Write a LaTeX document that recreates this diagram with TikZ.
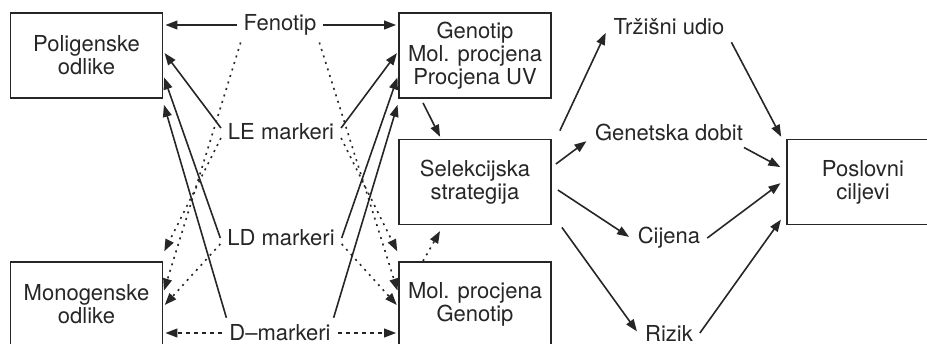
\documentclass[tikz,border=0pt]{standalone}
\usepackage{fontspec}
\setmainfont{TeX Gyre Heros}
\usetikzlibrary{arrows.meta}

\tikzset{
	kutija/.style={draw, line width=0.9pt, minimum width=76pt, minimum height=42.5pt, align=center, inner sep=0pt},
	strelica/.style={-{Triangle[length=6pt,width=4.4pt]}, line width=0.8pt, shorten >=1pt},
	tockasta/.style={strelica, dash pattern=on 1pt off 2.4pt},
	crtkana/.style={strelica, dash pattern=on 2pt off 2pt}
}

\begin{document}
\begin{tikzpicture}[x=0.5pt, y=-0.5pt, black!85,
		every node/.style={font=\fontsize{11}{11.5}\selectfont, text=black!85}]
		\useasboundingbox (0, 0) rectangle (927, 343);

		% kutije
		\node[kutija] (pol) at (86.5, 55.5) {Poligenske\\odlike};
		\node[kutija] (mono) at (86.5, 304.5) {Monogenske\\odlike};
		\node[kutija] (geno) at (475, 55.5) {Genotip\\Mol. procjena\\Procjena UV};
		\node[kutija] (sel) at (475, 182) {Selekcijska\\strategija};
		\node[kutija] (mol) at (475, 304.5) {Mol. procjena\\Genotip};
		\node[kutija] (cilj) at (863, 182) {Poslovni\\ciljevi};

		% markeri
		\node (fen) at (280, 25) {Fenotip};
		\node (le) at (281, 132) {LE markeri};
		\node (ld) at (281, 238) {LD markeri};
		\node (dm) at (280, 333) {D--markeri};

		% ishodi
		\node (trz) at (669, 27) {Tržišni udio};
		\node (gen) at (669, 132) {Genetska dobit};
		\node (cij) at (669, 238) {Cijena};
		\node (riz) at (669, 333) {Rizik};

		% fenotip i d-markeri
		\draw[strelica] (fen.west) -- (fen -| pol.east);
		\draw[strelica] (fen.east) -- (fen -| geno.west);
		\draw[crtkana] (dm.west) -- (dm -| mono.east);
		\draw[crtkana] (dm.east) -- (dm -| mol.west);

		% pune strelice lijevo
		\draw[strelica] ([yshift=2pt]le.west) -- ([yshift=2pt]pol.east);
		\draw[strelica] (ld.west) -- ([yshift=-10pt]pol.east);
		\draw[strelica] ([xshift=2pt]dm.north west) -- ([yshift=-2pt]pol.south east);

		% pune strelice desno
		\draw[strelica] ([yshift=2pt]le.east) -- ([yshift=2pt]geno.west);
		\draw[strelica] (ld.east) -- ([yshift=-10pt]geno.west);
		\draw[strelica] ([xshift=-2pt]dm.north east) -- ([yshift=-2pt]geno.south west);

		% tockaste strelice lijevo
		\draw[tockasta] ([xshift=2pt]fen.south west) -- ([yshift=6pt]mono.east);
		\draw[tockasta] ([yshift=-3pt]le.west) -- ([yshift=4pt]mono.north east);
		\draw[tockasta] ([yshift=-3pt]ld.west) -- ([yshift=-1pt]mono.east);

		% tockaste strelice desno
		\draw[tockasta] ([xshift=-2pt]fen.south east) -- ([yshift=6pt]mol.west);
		\draw[tockasta] ([yshift=-3pt]le.east) -- ([yshift=4pt]mol.north west);
		\draw[tockasta] ([yshift=-3pt]ld.east) -- ([yshift=-1pt]mol.west);

		% prema selekciji
		\draw[strelica] ([xshift=-26pt, yshift=-2pt]geno.south) -- ([xshift=-17pt]sel.north);
		\draw[tockasta] ([xshift=-26pt]mol.north) -- ([xshift=-17pt, yshift=-2pt]sel.south);

		% od selekcije
		\draw[strelica] ([xshift=4pt, yshift=4pt]sel.north east) -- ([yshift=-2pt]trz.west);
		\draw[strelica] ([xshift=2pt, yshift=9pt]sel.east) -- ([yshift=-4pt]gen.west);
		\draw[strelica] ([xshift=3pt, yshift=-4pt]sel.east) -- (cij.west);
		\draw[strelica] ([xshift=5pt, yshift=-1pt]sel.south east) -- (riz.west);

		% prema ciljevima
		\draw[strelica] (trz.south east) -- ([xshift=-2pt]cilj.north west);
		\draw[strelica] ([xshift=-3pt]gen.south east) -- ([xshift=-2pt, yshift=7pt]cilj.west);
		\draw[strelica] (cij.east) -- ([xshift=-2pt]cilj.west);
		\draw[strelica] (riz.east) -- ([xshift=-2pt, yshift=-18pt]cilj.west);

\end{tikzpicture}
\end{document}
